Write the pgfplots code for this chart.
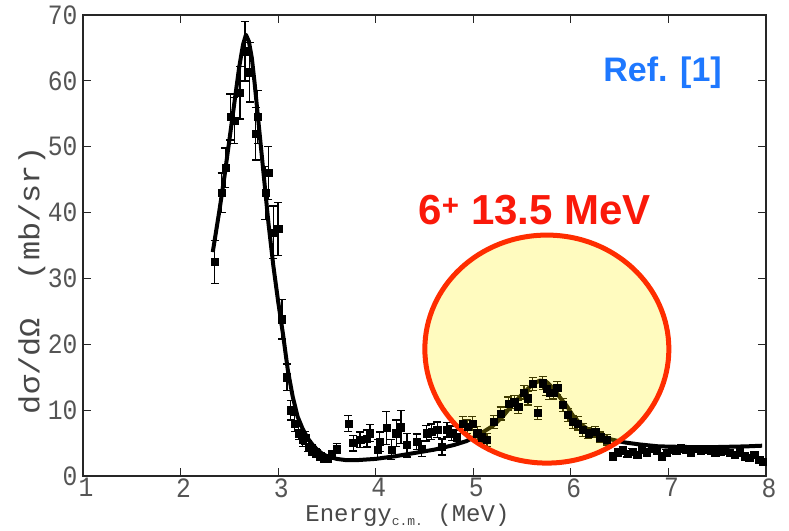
\documentclass[border=0pt]{standalone}
\usepackage{pgfplots}
\pgfplotsset{compat=1.18}
\usepackage{fontspec}
\setmainfont{Liberation Sans}
\newfontfamily\tickfont[FakeStretch=0.88]{Liberation Mono}
\newfontfamily\labfont{Liberation Mono}
\newfontfamily\ylabfont[FakeStretch=1.1]{Liberation Mono}

\definecolor{tickgray}{RGB}{85,85,85}
\definecolor{refblue}{RGB}{30,120,255}
\definecolor{annred}{RGB}{250,25,10}
\definecolor{ringred}{RGB}{255,45,0}
\definecolor{hiyellow}{RGB}{255,238,0}

% measured cross section: energy, value, uncertainty
\pgfplotstableread{
x y e
2.35 32.5 3.3
2.42 43.0 3.0
2.46 46.8 3.0
2.51 54.5 3.5
2.55 54.0 3.5
2.61 58.2 4.0
2.66 64.5 4.5
2.71 61.3 4.5
2.77 52.0 4.0
2.79 54.5 4.0
2.87 43.0 4.0
2.90 46.0 4.0
2.95 37.0 4.0
3.00 37.5 4.0
3.04 23.8 3.0
3.09 15.0 2.0
3.13 10.0 1.5
3.17 8.0 1.2
3.21 6.5 1.0
3.25 5.5 1.0
3.28 5.8 1.0
3.31 4.5 0.8
3.35 4.0 0.8
3.39 3.5 0.7
3.43 3.0 0.6
3.47 2.6 0.5
3.51 2.7 0.5
3.55 3.3 0.6
3.60 4.2 0.7
3.72 8.0 1.2
3.77 5.0 1.2
3.84 5.5 1.2
3.91 5.7 1.3
3.94 6.5 1.3
4.02 4.0 1.5
4.04 5.2 1.5
4.11 7.3 2.5
4.16 4.0 1.5
4.21 6.5 2.0
4.26 7.4 2.5
4.32 4.7 1.8
4.42 5.2 1.2
4.47 4.2 1.2
4.52 6.5 1.2
4.57 6.7 1.2
4.63 7.0 1.2
4.68 4.4 1.2
4.73 7.0 1.1
4.78 6.5 1.1
4.83 5.9 1.1
4.89 8.0 1.0
4.94 7.5 1.0
4.99 8.0 1.0
5.04 6.5 1.0
5.09 5.9 1.0
5.14 5.5 1.0
5.21 8.2 1.0
5.28 9.5 1.0
5.36 11.0 1.0
5.42 11.2 1.0
5.46 10.5 1.0
5.52 12.7 1.0
5.56 11.8 1.0
5.61 14.0 1.0
5.66 9.6 1.0
5.71 14.1 1.0
5.75 13.2 1.0
5.78 12.6 1.0
5.82 12.7 1.0
5.86 13.4 1.0
5.92 10.8 1.0
5.97 9.3 1.0
6.02 8.2 1.0
6.07 8.0 1.0
6.12 7.0 1.0
6.18 6.5 0.8
6.25 6.7 0.8
6.30 5.9 0.8
6.37 5.5 0.8
6.43 3.0 0.5
6.48 3.6 0.5
6.53 3.9 0.5
6.58 3.4 0.5
6.63 3.7 0.5
6.68 3.2 0.5
6.73 4.0 0.5
6.78 3.6 0.5
6.83 4.1 0.5
6.88 3.8 0.5
6.93 3.0 0.5
6.98 3.5 0.5
7.03 4.0 0.5
7.08 3.8 0.5
7.13 4.2 0.5
7.18 4.0 0.5
7.23 3.6 0.5
7.28 4.1 0.5
7.33 3.8 0.5
7.38 4.0 0.5
7.43 3.9 0.5
7.48 3.5 0.5
7.53 3.7 0.5
7.58 3.9 0.5
7.63 3.5 0.5
7.68 3.2 0.5
7.73 3.6 0.5
7.78 3.0 0.5
7.83 2.8 0.5
7.88 3.2 0.5
7.93 2.5 0.5
7.97 2.2 0.5
}\measured

% calculated excitation function
\pgfplotstableread{
x y
2.33 34.0
2.40 40.5
2.45 45.5
2.50 51.0
2.55 56.5
2.60 62.0
2.64 65.5
2.67 67.0
2.70 66.0
2.73 63.5
2.76 59.5
2.80 53.5
2.85 46.0
2.90 38.5
2.95 32.0
3.00 26.5
3.05 21.5
3.10 16.0
3.15 12.0
3.20 9.0
3.25 7.2
3.30 5.8
3.35 4.8
3.40 4.0
3.45 3.4
3.50 3.0
3.60 2.6
3.70 2.4
3.80 2.4
3.90 2.5
4.00 2.6
4.20 3.0
4.40 3.5
4.60 4.0
4.80 4.7
4.93 5.3
5.05 6.2
5.20 7.6
5.30 9.0
5.41 11.0
5.50 12.4
5.60 13.8
5.68 14.5
5.75 14.3
5.82 13.3
5.90 11.7
5.96 10.6
6.02 9.2
6.10 7.9
6.20 6.8
6.30 6.1
6.40 5.6
6.55 5.1
6.70 4.8
6.90 4.5
7.20 4.4
7.50 4.4
7.80 4.5
7.96 4.6
}\calc

\begin{document}
\begin{tikzpicture}
\begin{axis}[
  scale only axis,
  width=683pt, height=461pt,
  xmin=1, xmax=8, ymin=0, ymax=70,
  xtick={1,2,...,8},
  ytick={0,10,...,70},
  tick align=inside,
  major tick length=8pt,
  axis line style={black!85, line width=1.2pt},
  major tick style={black!85, line width=1.2pt},
  /pgf/number format/assume math mode=true,
  tick label style={font=\tickfont\fontsize{28}{28}\selectfont, text=tickgray},
  xticklabel style={yshift=1pt, xshift=3pt},
  yticklabel style={xshift=-2pt},
  xlabel={Energy\raisebox{-0.35ex}{\fontsize{13}{13}\selectfont c.m.}\ (MeV)},
  ylabel={\ylabfont dσ/dΩ\ \ (mb/sr)},
  label style={font=\labfont\fontsize{24}{24}\selectfont, text=tickgray!85!black},
  xlabel style={at={(axis description cs:0.475,-0.085)}, anchor=center},
  ylabel style={at={(axis description cs:-0.075,0.425)}, anchor=center, font=\fontsize{29}{29}\selectfont},
]
\coordinate (sw) at (rel axis cs:0,0);

\addplot[black, line width=4pt, line join=round] table {\calc};

\addplot[
  only marks, mark=square*, mark size=3.6pt, black,
  error bars/.cd, y dir=both, y explicit,
  error bar style={line width=1.3pt, black},
  error mark options={rotate=90, mark size=4pt, line width=1.3pt, black},
] table[x=x, y=y, y error=e] {\measured};

\draw[ringred, line width=5pt, fill=hiyellow, fill opacity=0.25]
  (axis cs:5.754,19.27) ellipse [x radius=122pt, y radius=114pt];

\node[font=\bfseries\fontsize{34}{34}\selectfont, text=refblue]
  at (axis cs:6.94,61.3) {Ref. [1]};
\node[font=\bfseries\fontsize{42}{42}\selectfont, text=annred]
  at (axis cs:5.63,40.4) {6\textsuperscript{+} 13.5 MeV};
\end{axis}
\pgfresetboundingbox
\path[use as bounding box] (sw) ++(-83pt,-54pt) rectangle ++(789pt,530pt);
\end{tikzpicture}
\end{document}
